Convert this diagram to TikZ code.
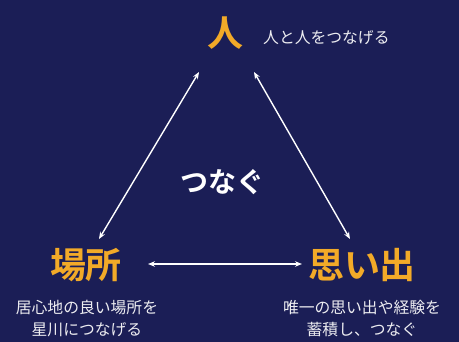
\documentclass[tikz,border=0pt]{standalone}
\usepackage{fontspec}
\newfontfamily\jp{Noto Sans CJK JP}
\newfontfamily\jpb{Noto Sans CJK JP Bold}
\usetikzlibrary{arrows.meta}
\definecolor{bg}{RGB}{27,30,86}
\definecolor{gold}{RGB}{242,170,40}
\begin{document}
\begin{tikzpicture}[x=1pt,y=-1pt,
  title/.style={text=gold,font=\jpb\fontsize{36}{38}\selectfont,inner sep=0pt},
  desc/.style={text=white!92!bg,font=\jp\fontsize{15.8}{22}\selectfont,align=center,inner sep=0pt},
  link/.style={white,line width=1.4pt,{Stealth[length=7pt,width=5.5pt]}-{Stealth[length=7pt,width=5.5pt]}}]
\fill[bg] (0,0) rectangle (459,342);
\useasboundingbox (0,0) rectangle (459,342);
\node[title] (hito) at (225,33) {人};
\node[desc,anchor=west] (hitod) at (263,38) {人と人をつなげる};
\node[title] (basho) at (86,265) {場所};
\node[title] (omoide) at (362,265) {思い出};
\node[desc] (bashod) at (87,319) {居心地の良い場所を\\星川につなげる};
\node[desc] (omoided) at (362,319) {唯一の思い出や経験を\\蓄積し、つなぐ};
\node[text=white,font=\jpb\fontsize{28}{30}\selectfont,inner sep=0pt] (tsunagu) at (222,182) {つなぐ};
\coordinate (a1) at (199,72);
\coordinate (a2) at (99,239);
\coordinate (b1) at (254,72);
\coordinate (b2) at (350,239);
\coordinate (c1) at (148,264);
\coordinate (c2) at (302,264);
\draw[link] (a1) -- (a2);
\draw[link] (b1) -- (b2);
\draw[link] (c1) -- (c2);
\end{tikzpicture}
\end{document}
